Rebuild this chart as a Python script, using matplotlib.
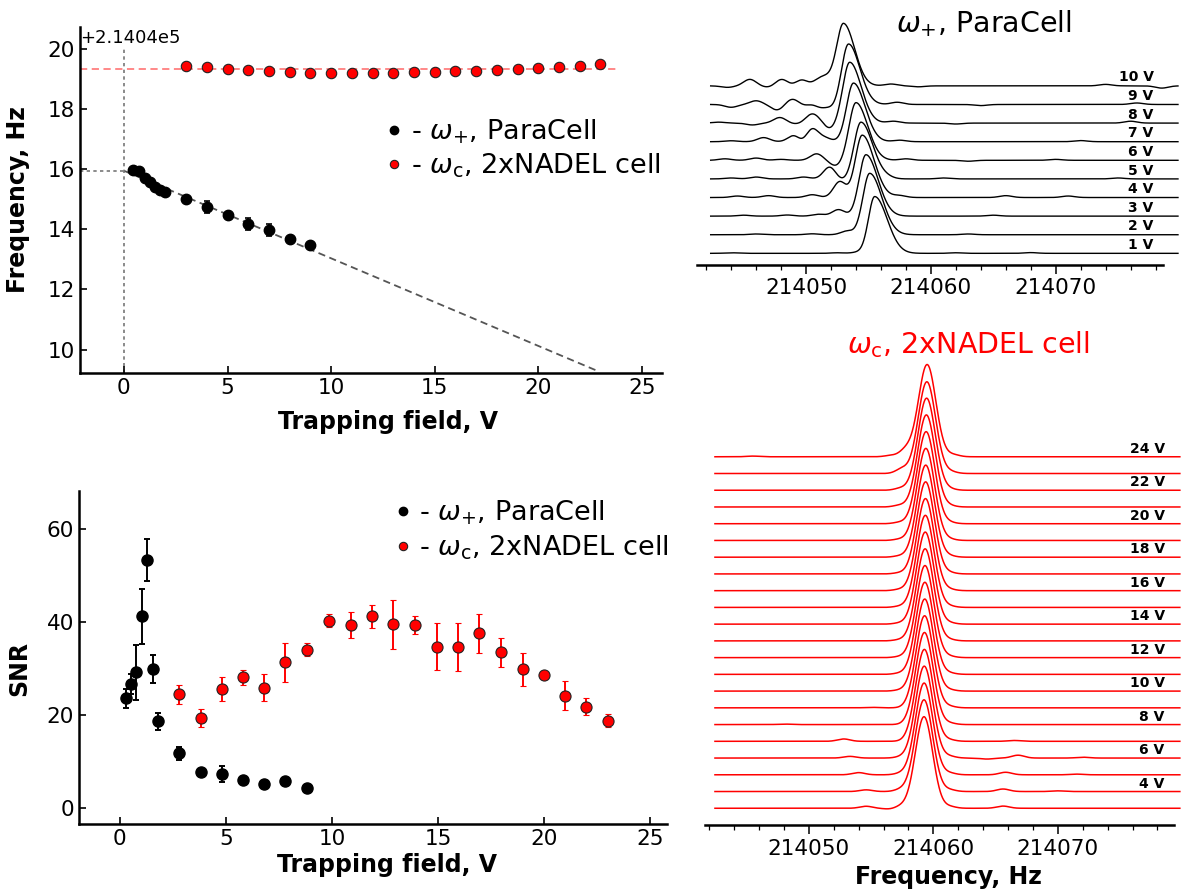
import numpy as np
import matplotlib
matplotlib.use("Agg")
import matplotlib.pyplot as plt
from matplotlib.ticker import ScalarFormatter, MultipleLocator

# ---- frequency vs trapping field ----
para_v = [0.45, 0.75, 1.0, 1.25, 1.5, 1.75, 2.0, 3, 4, 5, 6, 7, 8, 9]
para_freq = [214055.98, 214055.92, 214055.69, 214055.55, 214055.41, 214055.30, 214055.24,
             214055.01, 214054.74, 214054.46, 214054.16, 214053.97, 214053.66, 214053.46]
para_freq_err = [0.05, 0.06, 0.06, 0.08, 0.07, 0.06, 0.06, 0.10, 0.21, 0.10, 0.20, 0.21, 0.08, 0.07]

nadel_v = [3, 4, 5, 6, 7, 8, 9, 10, 11, 12, 13, 14, 15, 16, 17, 18, 19, 20, 21, 22, 23]
nadel_freq = [214059.41, 214059.38, 214059.33, 214059.30, 214059.26, 214059.21, 214059.20,
              214059.20, 214059.20, 214059.20, 214059.20, 214059.21, 214059.22, 214059.24,
              214059.25, 214059.28, 214059.31, 214059.35, 214059.37, 214059.43, 214059.48]

fit_f0 = 214055.94      # extrapolated to 0 V
fit_slope = -0.291      # Hz / V
fit_vmax = 22.85
nadel_level = 214059.33
nadel_level_vmax = 23.8

# ---- SNR vs trapping field ----
snr_para_v = [0.27, 0.53, 0.78, 1.03, 1.28, 1.55, 1.81, 2.8, 3.8, 4.8, 5.8, 6.8, 7.8, 8.8]
snr_para = [23.6, 26.7, 29.2, 41.2, 53.4, 29.8, 18.6, 11.7, 7.8, 7.3, 6.0, 5.2, 5.8, 4.2]
snr_para_err = [2.05, 2.1, 5.9, 5.9, 4.5, 3.0, 1.9, 1.4, 0.5, 1.8, 0.5, 0.4, 0.4, 0.4]

snr_nadel_v = [2.8, 3.8, 4.8, 5.8, 6.8, 7.8, 8.8, 9.85, 10.9, 11.9, 12.9, 13.9, 14.95,
               15.95, 16.95, 17.95, 19.0, 20.0, 21.0, 22.0, 23.0]
snr_nadel = [24.4, 19.3, 25.6, 28.1, 25.9, 31.3, 34.0, 40.3, 39.4, 41.2, 39.5, 39.3, 34.7,
             34.6, 37.6, 33.5, 29.8, 28.7, 24.1, 21.8, 18.7]
snr_nadel_err = [2.0, 1.9, 2.55, 1.6, 2.95, 4.2, 1.4, 1.4, 2.8, 2.4, 5.2, 1.9, 5.1, 5.2,
                 4.2, 3.1, 3.6, 0.6, 3.1, 1.8, 1.4]

# ---- spectra, ParaCell (1..10 V) ----
para_spec_v = [1, 2, 3, 4, 5, 6, 7, 8, 9, 10]
para_f_range = (214042.36, 214079.8)
para_peak_f = [214055.5, 214055.1, 214054.8, 214054.5, 214054.4,
               214054.0, 214053.8, 214053.5, 214053.4, 214053.0]
para_peak_h = [3.05, 3.3, 3.3, 3.35, 3.05, 3.1, 3.15, 3.27, 3.26, 3.35]
para_sig_lo = [0.5, 0.55, 0.55, 0.55, 0.55, 0.55, 0.55, 0.55, 0.55, 0.55]
para_sig_hi = [1.0, 0.98, 0.96, 0.95, 0.94, 0.93, 0.92, 0.91, 0.9, 0.88]
para_ripple = [
    [(214044.0, 0.03), (214052.5, 0.03), (214054.2, 0.06), (214062.0, 0.03), (214068.0, 0.04)],
    [(214046.0, 0.04), (214050.5, 0.05), (214053.3, 0.2), (214063.0, 0.04)],
    [(214045.0, 0.05), (214048.5, 0.06), (214051.0, 0.1), (214052.6, 0.35), (214065.0, 0.05)],
    [(214044.5, 0.08), (214047.0, 0.1), (214050.5, 0.15), (214052.7, 0.85), (214057.5, 0.1),
     (214066.0, 0.1), (214071.0, 0.08)],
    [(214044.0, 0.05), (214046.0, 0.1), (214049.8, 0.1), (214051.9, 0.65), (214052.8, -0.1),
     (214056.5, 0.06), (214061.0, 0.05), (214075.0, 0.05)],
    [(214043.5, 0.08), (214046.0, 0.12), (214048.0, 0.05), (214050.85, 0.35), (214052.4, -0.3),
     (214058.0, 0.08), (214063.0, -0.05), (214070.0, 0.05)],
    [(214044.0, 0.05), (214046.6, 0.22), (214049.1, 0.4), (214049.75, -0.25), (214050.45, 0.75),
     (214051.5, 0.2), (214057.5, 0.08), (214072.0, 0.06)],
    [(214043.0, 0.05), (214045.7, -0.1), (214047.9, 0.3), (214049.2, -0.05), (214050.45, 0.45),
     (214051.2, 0.15), (214051.85, -0.35), (214057.0, 0.1), (214062.0, -0.05), (214076.0, 0.1)],
    [(214044.0, -0.15), (214046.0, 0.2), (214047.7, -0.3), (214048.9, 0.3), (214050.0, -0.1),
     (214050.6, 0.15), (214051.1, -0.25), (214051.6, 0.05), (214052.2, -0.2), (214057.3, 0.12),
     (214064.0, -0.06), (214076.5, 0.08)],
    [(214043.7, -0.08), (214045.5, 0.35), (214047.0, -0.08), (214048.05, 0.36), (214049.0, -0.05),
     (214049.65, 0.35), (214050.35, -0.05), (214051.0, 0.3), (214051.7, 0.35), (214056.8, 0.1),
     (214059.0, -0.05), (214074.0, 0.08), (214078.5, -0.12)],
]

# ---- spectra, 2xNADEL cell (3..24 V) ----
nadel_spec_v = list(range(3, 25))
nadel_f_range = (214042.46, 214079.8)
nadel_peak_f = [214059.25, 214059.25, 214059.26, 214059.27, 214059.28, 214059.29, 214059.30,
                214059.31, 214059.32, 214059.33, 214059.34, 214059.35, 214059.36, 214059.37,
                214059.38, 214059.39, 214059.40, 214059.42, 214059.44, 214059.46, 214059.48,
                214059.50]
nadel_peak_h = [5.47, 5.48, 5.48, 5.49, 5.49, 5.5, 5.5, 5.5, 5.5, 5.5, 5.5, 5.5, 5.5, 5.5,
                5.5, 5.5, 5.5, 5.5, 5.5, 5.5, 5.48, 5.51]
nadel_sig = 0.7
nadel_ripple = [
    [(214054.6, 0.12), (214056.5, -0.05), (214057.4, 0.12), (214061.3, 0.1), (214065.6, 0.13)],
    [(214054.6, 0.1), (214057.4, 0.12), (214061.3, 0.1), (214065.6, 0.15), (214070.0, 0.04)],
    [(214054.0, 0.13), (214057.4, 0.08), (214061.3, 0.1), (214065.8, 0.15), (214071.5, 0.04)],
    [(214053.3, 0.1), (214057.4, 0.06), (214061.3, 0.1), (214064.3, -0.06), (214066.8, 0.17),
     (214072.0, 0.05)],
    [(214052.8, 0.14), (214061.3, 0.08), (214066.5, 0.05)],
    [(214048.0, 0.03), (214061.3, 0.08)],
    [(214055.0, 0.03), (214061.3, 0.08)],
    [(214057.3, 0.05), (214061.3, 0.07)],
    [(214057.3, 0.06), (214061.3, 0.07)],
    [(214057.3, 0.05), (214061.3, 0.07)],
    [(214057.3, 0.06), (214061.3, 0.07)],
    [(214057.3, 0.06), (214061.3, 0.07)],
    [(214057.3, 0.06), (214061.3, 0.07)],
    [(214057.3, 0.07), (214061.3, 0.07)],
    [(214057.3, 0.06), (214061.3, 0.07)],
    [(214057.3, 0.07), (214061.3, 0.07)],
    [(214057.3, 0.07), (214061.3, 0.07)],
    [(214057.3, 0.08), (214061.3, 0.07)],
    [(214057.3, 0.1), (214061.3, 0.07)],
    [(214057.4, 0.12), (214061.3, 0.07)],
    [(214057.5, 0.28), (214061.4, 0.1)],
    [(214045.5, 0.04), (214056.6, 0.08), (214057.8, 0.4), (214061.6, 0.12)],
]
ripple_sig = 0.5

W, H = 1181, 894
fig = plt.figure(figsize=(W / 100, H / 100), dpi=100)


def box(l, t, r, b):
    return [l / W, 1 - b / H, (r - l) / W, (b - t) / H]


def spectrum(f, f0, h, s_lo, s_hi, ripple):
    s = np.where(f < f0, s_lo, s_hi)
    y = h * np.exp(-0.5 * ((f - f0) / s) ** 2)
    for fc, a in ripple:
        y += a * np.exp(-0.5 * ((f - fc) / ripple_sig) ** 2)
    return y


lbl_para = r'- $\omega_{+}$, ParaCell'
lbl_nadel = r'- $\omega_{\rm c}$, 2xNADEL cell'


def style_left(ax):
    for side in ('top', 'right'):
        ax.spines[side].set_visible(False)
    for side in ('left', 'bottom'):
        ax.spines[side].set_linewidth(1.8)
    ax.tick_params(direction='in', length=5, width=1.2, labelsize=15.5)
    ax.xaxis.set_major_locator(MultipleLocator(5))


# ---------- top left: frequency ----------
ax1 = fig.add_axes(box(80, 46.7, 662, 373))
style_left(ax1)
x0, x1 = -2.12, 25.97
ax1.set_xlim(x0, x1)
ax1.set_ylim(214049.22, 214060.06)
ax1.spines['left'].set_bounds(214049.22, 214060.71)
ax1.yaxis.set_major_locator(MultipleLocator(2))
ax1.yaxis.set_major_formatter(ScalarFormatter(useOffset=214040))
ax1.yaxis.get_offset_text().set_fontsize(13)

vv = np.array([0, fit_vmax])
ax1.plot(vv, fit_f0 + fit_slope * vv, color='#555555', lw=1.3, dashes=(4, 2.5), zorder=1)
ax1.axvline(0, color='#777777', lw=1.2, dashes=(2, 2), zorder=1)
ax1.plot([x0, 0], [fit_f0, fit_f0], color='#777777', lw=1.2, dashes=(2, 2), zorder=1)
ax1.plot([x0, nadel_level_vmax], [nadel_level, nadel_level], color='#ff7f7f', lw=1.3,
         dashes=(4, 2.5), zorder=1)
ax1.errorbar(para_v, para_freq, yerr=para_freq_err, fmt='o', color='black', ms=7.5,
             capsize=2.2, elinewidth=1.2, capthick=1.2, zorder=3)
ax1.plot(nadel_v, nadel_freq, 'o', mfc='red', mec='#222222', mew=0.8, ms=7.5, zorder=3)
h1, = ax1.plot([], [], 'o', color='black', ms=6)
h2, = ax1.plot([], [], 'o', mfc='red', mec='#222222', mew=0.8, ms=6)
ax1.legend([h1, h2], [lbl_para, lbl_nadel], loc='center left',
           bbox_to_anchor=(0.526, 0.687), frameon=False, fontsize=19.5, handlelength=0.6,
           handletextpad=0.3, borderpad=0, borderaxespad=0, labelspacing=0.22, numpoints=1)
ax1.set_xlabel('Trapping field, V', fontsize=17, fontweight='bold')
ax1.set_ylabel('Frequency, Hz', fontsize=17, fontweight='bold')
ax1.xaxis.set_label_coords(0.529, -0.113)
ax1.yaxis.set_label_coords(-0.086, 0.53)

# ---------- bottom left: SNR ----------
ax2 = fig.add_axes(box(79, 490.7, 667, 824))
style_left(ax2)
ax2.set_xlim(-1.93, 25.8)
ax2.set_ylim(-3.5, 68.3)
ax2.yaxis.set_major_locator(MultipleLocator(20))
ax2.errorbar(snr_para_v, snr_para, yerr=snr_para_err, fmt='o', color='black', ms=8,
             capsize=2.2, elinewidth=1.4, capthick=1.4, zorder=3)
ax2.errorbar(snr_nadel_v, snr_nadel, yerr=snr_nadel_err, fmt='o', mfc='red', mec='#222222',
             mew=0.8, ecolor='red', ms=8, capsize=2.2, elinewidth=1.4, capthick=1.4, zorder=3)
g1, = ax2.plot([], [], 'o', color='black', ms=6)
g2, = ax2.plot([], [], 'o', mfc='red', mec='#222222', mew=0.8, ms=6)
ax2.legend([g1, g2], [lbl_para, lbl_nadel], loc='center left',
           bbox_to_anchor=(0.537, 0.881), frameon=False, fontsize=19.5, handlelength=0.6,
           handletextpad=0.3, borderpad=0, borderaxespad=0, labelspacing=0.22, numpoints=1)
ax2.set_xlabel('Trapping field, V', fontsize=17, fontweight='bold')
ax2.set_ylabel('SNR', fontsize=17, fontweight='bold')
ax2.xaxis.set_label_coords(0.524, -0.087)
ax2.yaxis.set_label_coords(-0.082, 0.468)


def style_right(ax):
    for side in ('top', 'right', 'left'):
        ax.spines[side].set_visible(False)
    ax.spines['bottom'].set_linewidth(1.8)
    ax.set_yticks([])
    ax.xaxis.set_major_locator(MultipleLocator(10))
    ax.xaxis.set_minor_locator(MultipleLocator(2))
    ax.xaxis.set_major_formatter(ScalarFormatter(useOffset=False))
    ax.tick_params(axis='x', which='major', direction='out', length=6.5, width=1.1,
                   labelsize=15.5)
    ax.tick_params(axis='x', which='minor', direction='out', length=3.3, width=0.9)


# ---------- top right: ParaCell spectra ----------
ax3 = fig.add_axes(box(696.7, 20, 1163, 264.5))
style_right(ax3)
ax3.set_xlim(214041.24, 214078.6)
ax3.set_ylim(-0.60, 12.54)
f = np.linspace(para_f_range[0], para_f_range[1], 2500)
for i, v in enumerate(para_spec_v):
    y = spectrum(f, para_peak_f[i], para_peak_h[i], para_sig_lo[i], para_sig_hi[i],
                 para_ripple[i])
    ax3.plot(f, i + y, color='black', lw=1.0, clip_on=False)
    ax3.text(214077.84, i + 0.45, f'{v} V', ha='right', va='center', fontsize=10,
             fontweight='bold')
fig.text(984 / W, 1 - 32.5 / H, r'$\omega_{+}$, ParaCell', ha='center', va='baseline',
         fontsize=20.5)

# ---------- bottom right: 2xNADEL spectra ----------
ax4 = fig.add_axes(box(705, 355, 1174, 825))
style_right(ax4)
ax4.set_xlim(214041.66, 214079.33)
ax4.set_ylim(-1.0, 27.08)
f = np.linspace(nadel_f_range[0], nadel_f_range[1], 2500)
for i, v in enumerate(nadel_spec_v):
    y = spectrum(f, nadel_peak_f[i], nadel_peak_h[i], nadel_sig, nadel_sig, nadel_ripple[i])
    ax4.plot(f, i + y, color='red', lw=1.1, clip_on=False)
    if v % 2 == 0:
        ax4.text(214078.58, i + 0.47, f'{v} V', ha='right', va='center', fontsize=10,
                 fontweight='bold')
ax4.set_xlabel('Frequency, Hz', fontsize=17, fontweight='bold')
ax4.xaxis.set_label_coords(0.52, -0.085)
fig.text(968 / W, 1 - 353.3 / H, r'$\omega_{\rm c}$, 2xNADEL cell', ha='center',
         va='baseline', fontsize=20.5, color='red')

fig.savefig('out.png', dpi=100)
